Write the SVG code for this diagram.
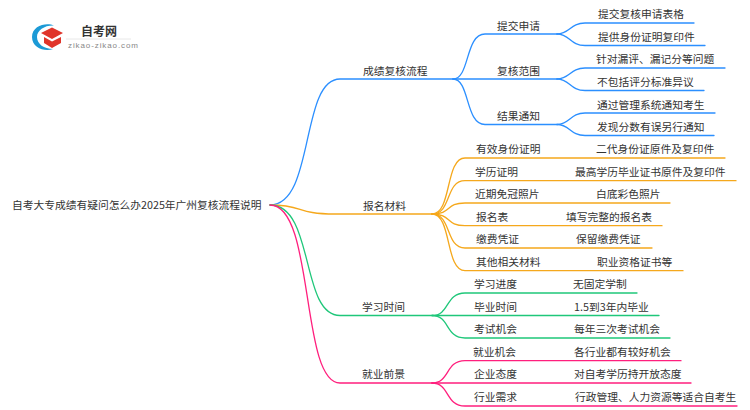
<svg xmlns="http://www.w3.org/2000/svg" width="750" height="410" viewBox="0 0 750 410">
<style>
text{font-family:"Noto Sans CJK SC","Liberation Sans",sans-serif;font-size:10.75px;fill:#333}
.c{fill:none;stroke-width:1.3;stroke-linecap:round}
.b{stroke:#2b8fff}.o{stroke:#f5a81c}.g{stroke:#1fc77a}.p{stroke:#ff1f7d}
</style>
<rect width="750" height="410" fill="#fff"/>
<g id="connectors">
<path class="c b" d="M270 205C315 205 300 79 340 79H453"/>
<path class="c b" d="M453 79C470 79 465 34 485 34H557"/>
<path class="c b" d="M453 79H557"/>
<path class="c b" d="M453 79C470 79 465 124.500 485 124.500H557"/>
<path class="c b" d="M557 34C570 34 570 23 585 23H694"/>
<path class="c b" d="M557 34C570 34 570 45.500 585 45.500H705"/>
<path class="c b" d="M557 79C570 79 570 68 585 68H725"/>
<path class="c b" d="M557 79C570 79 570 90.500 585 90.500H704"/>
<path class="c b" d="M557 124.500C570 124.500 570 113 585 113H715"/>
<path class="c b" d="M557 124.500C570 124.500 570 135.500 585 135.500H714"/>
<path class="c o" d="M270 205C305 205 295 214 335 214H432"/>
<path class="c o" d="M432 214C452 214 445 158 465 158H725"/>
<path class="c o" d="M432 214C452 214 445 180.700 465 180.700H736"/>
<path class="c o" d="M432 214C452 214 445 203 465 203H670"/>
<path class="c o" d="M432 214C452 214 445 225.700 465 225.700H662"/>
<path class="c o" d="M432 214C452 214 445 248 465 248H652"/>
<path class="c o" d="M432 214C452 214 445 270.700 465 270.700H683"/>
<path class="c g" d="M270 205C315 205 300 315.500 340 315.500H432"/>
<path class="c g" d="M432 315.500C450 315.500 445 293 465 293H637"/>
<path class="c g" d="M432 315.500H659"/>
<path class="c g" d="M432 315.500C450 315.500 445 338 465 338H670"/>
<path class="c p" d="M270 205C315 205 300 383 340 383H432"/>
<path class="c p" d="M432 383C450 383 445 360.700 465 360.700H681"/>
<path class="c p" d="M432 383H691"/>
<path class="c p" d="M432 383C450 383 445 406 465 406H737"/>
</g>
<g id="logo">
<path d="M54 25.500C47 22 32 25 32 37C32 48 45 52 53 49C44 49 37 44 37 37C37 30 45 25 54 25.500Z" fill="#1c9ad6"/>
<path d="M41 33L52 27.500L63 33L52 39Z" fill="#e0352b"/>
<path d="M44 37L52 41.500L61 37V43L52 48L44 43Z" fill="#e0352b"/>
<path d="M66 39H131" stroke="#e8e8e8" stroke-width="1" fill="none"/>
<text x="81" y="35.500" style="font-size:12px;font-weight:700">自考网</text>
<text x="68" y="48" style="font-size:8px;fill:#888;letter-spacing:.9px;font-family:'Liberation Sans',sans-serif">zikao-zikao.com</text>
</g>
<g id="root"><text x="12" y="209">自考大专成绩有疑问怎么办2025年广州复核流程说明</text></g>
<g id="n1"><text x="363" y="75">成绩复核流程</text></g>
<g id="n2"><text x="363" y="210">报名材料</text></g>
<g id="n3"><text x="362" y="311">学习时间</text></g>
<g id="n4"><text x="362" y="378">就业前景</text></g>
<g id="n11"><text x="497" y="30">提交申请</text></g>
<g id="n12"><text x="497" y="75">复核范围</text></g>
<g id="n13"><text x="497" y="120">结果通知</text></g>
<g id="n111"><text x="598" y="18">提交复核申请表格</text></g>
<g id="n112"><text x="598" y="41">提供身份证明复印件</text></g>
<g id="n121"><text x="596" y="63">针对漏评、漏记分等问题</text></g>
<g id="n122"><text x="597" y="86">不包括评分标准异议</text></g>
<g id="n131"><text x="597" y="109">通过管理系统通知考生</text></g>
<g id="n132"><text x="597" y="131">发现分数有误另行通知</text></g>
<g id="n21"><text x="476" y="153">有效身份证明</text><text x="596" y="153">二代身份证原件及复印件</text></g>
<g id="n22"><text x="475" y="176">学历证明</text><text x="575" y="176">最高学历毕业证书原件及复印件</text></g>
<g id="n23"><text x="475" y="198">近期免冠照片</text><text x="596" y="198">白底彩色照片</text></g>
<g id="n24"><text x="476" y="221">报名表</text><text x="566" y="221">填写完整的报名表</text></g>
<g id="n25"><text x="476" y="243">缴费凭证</text><text x="576" y="243">保留缴费凭证</text></g>
<g id="n26"><text x="476" y="266">其他相关材料</text><text x="597" y="266">职业资格证书等</text></g>
<g id="n31"><text x="474" y="288">学习进度</text><text x="573" y="288">无固定学制</text></g>
<g id="n32"><text x="474" y="311">毕业时间</text><text x="574" y="311">1.5到3年内毕业</text></g>
<g id="n33"><text x="474" y="333">考试机会</text><text x="574" y="333">每年三次考试机会</text></g>
<g id="n41"><text x="473" y="356">就业机会</text><text x="574" y="356">各行业都有较好机会</text></g>
<g id="n42"><text x="474" y="378">企业态度</text><text x="574" y="378">对自考学历持开放态度</text></g>
<g id="n43"><text x="474" y="401">行业需求</text><text x="575" y="401">行政管理、人力资源等适合自考生</text></g>
</svg>
